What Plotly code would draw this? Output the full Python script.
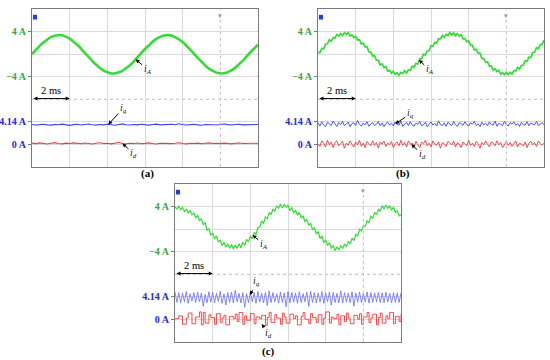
import plotly.graph_objects as go

# ---------------- data (time axis in ms, currents in A) ----------------
T_END = 12.0
PANELS = ["a", "b", "c"]

# phase current iA
iA_a_dt = 0.25
iA_a = [0.02, 0.90, 1.80, 2.46, 3.05, 3.30, 3.42, 3.18, 2.80, 2.11, 1.38, 0.43, -0.44, -1.38, -2.12, -2.81,
        -3.18, -3.42, -3.31, -3.05, -2.46, -1.80, -0.90, 0.03, 0.94, 1.75, 2.51, 3.00, 3.35, 3.40, 3.22, 2.76,
        2.16, 1.34, 0.48, -0.48, -1.33, -2.16, -2.76, -3.22, -3.40, -3.35, -3.00, -2.51, -1.75, -0.94, 0.02,
        0.90, 1.68]

iA_b_dt = 0.1
iA_b = [0.35, 0.29, 1.03, 0.95, 1.82, 1.86, 2.58, 2.32, 2.94, 2.87,
        3.52, 3.23, 3.69, 3.32, 3.85, 3.54, 3.88, 3.24, 3.45, 2.97,
        3.21, 2.51, 2.58, 1.82, 1.99, 1.33, 1.37, 0.43, 0.40, -0.30,
        -0.23, -1.07, -1.08, -1.89, -1.72, -2.33, -2.21, -3.01, -2.87, -3.35,
        -3.04, -3.58, -3.29, -3.75, -3.22, -3.44, -2.93, -3.32, -2.77, -2.84,
        -2.12, -2.28, -1.61, -1.72, -0.85, -0.78, 0.01, -0.15, 0.59, 0.68,
        1.50, 1.42, 2.11, 1.98, 2.77, 2.74, 3.37, 3.02, 3.53, 3.34,
        3.87, 3.45, 3.79, 3.28, 3.69, 3.25, 3.47, 2.71, 2.81, 2.23,
        2.37, 1.59, 1.58, 0.77, 0.88, 0.20, 0.20, -0.73, -0.77, -1.43,
        -1.34, -2.12, -2.08, -2.81, -2.56, -3.07, -2.85, -3.54, -3.28, -3.64,
        -3.20, -3.62, -3.19, -3.53, -2.87, -2.97, -2.34, -2.62, -1.98, -1.96,
        -1.17, -1.25, -0.53, -0.59, 0.30, 0.39, 1.18, 1.00, 1.72, 1.76,
        2.53]

iA_c_dt = 0.1
iA_c = [4.0, 3.6, 4.1, 3.5, 3.9, 3.1, 3.6, 2.9, 3.3, 2.6,
        2.9, 2.0, 2.5, 1.5, 1.9, 0.8, 1.2, -0.2, 0.1, -1.0,
        -0.7, -1.6, -1.2, -2.3, -1.9, -2.9, -2.3, -3.2, -2.6, -3.4,
        -2.7, -3.5, -2.8, -3.4, -2.6, -3.3, -2.3, -2.9, -1.8, -2.2,
        -1.2, -1.7, -0.6, -0.9, 0.3, 0.4, 1.5, 1.0, 2.2, 1.9,
        3.0, 2.6, 3.6, 3.2, 4.2, 3.7, 4.5, 3.8, 4.4, 3.9,
        4.3, 3.3, 3.9, 2.9, 3.4, 2.5, 3.0, 2.0, 2.4, 1.3,
        1.8, 0.7, 1.1, -0.1, 0.3, -0.8, -0.4, -1.6, -1.2, -2.4,
        -1.9, -2.9, -2.4, -3.4, -2.9, -3.8, -3.1, -3.7, -2.9, -3.4,
        -2.7, -3.1, -2.2, -2.6, -1.6, -2.0, -0.9, -1.2, 0.0, -0.3,
        0.7, 0.5, 1.5, 1.2, 2.3, 2.0, 3.0, 2.6, 3.6, 3.2,
        4.2, 3.6, 4.3, 3.7, 4.2, 3.4, 3.9, 3.0, 3.3, 2.4,
        2.6]

# q-axis current iq
iq_a_dt = 0.2
iq_a = [3.90, 3.85, 3.88, 3.92, 3.86, 3.84, 3.90, 3.87, 3.93, 3.86,
        3.82, 3.88, 3.91, 3.85, 3.89, 3.94, 3.87, 3.84, 3.90, 3.86,
        3.92, 3.88, 3.83, 3.89, 3.95, 3.87, 3.85, 3.90, 3.86, 3.91,
        3.88, 3.84, 3.90, 3.93, 3.86, 3.88, 3.85, 3.91, 3.87, 3.96,
        3.89, 3.85, 3.88, 3.92, 3.86, 3.83, 3.89, 3.91, 3.87, 3.85,
        3.90, 3.94, 3.88, 3.85, 3.89, 3.92, 3.86, 3.88, 3.91, 3.87,
        3.90]

iq_b_dt = 0.1
iq_b = [4.05, 3.75, 4.15, 3.85, 3.70, 4.10, 3.95, 3.80, 4.20, 3.90,
        3.72, 4.08, 3.88, 4.18, 3.78, 3.95, 4.12, 3.70, 3.98, 4.05,
        3.82, 4.25, 3.90, 3.75, 4.02, 3.86, 4.14, 3.74, 3.96, 4.08,
        3.80, 3.92, 4.16, 3.78, 4.04, 3.70, 3.98, 4.10, 3.84, 4.00,
        3.76, 4.12, 3.90, 3.82, 4.20, 3.72, 3.94, 4.06, 3.80, 4.14,
        3.86, 3.74, 4.02, 3.92, 4.18, 3.78, 3.88, 4.08, 3.70, 3.96,
        4.12, 3.84, 4.00, 3.76, 4.22, 3.90, 3.80, 4.04, 3.74, 4.10,
        3.94, 3.78, 4.16, 3.86, 3.72, 4.06, 3.98, 3.82, 4.14, 3.88,
        3.76, 4.04, 3.92, 4.18, 3.80, 3.96, 3.70, 4.10, 3.86, 4.02,
        3.78, 4.12, 3.90, 3.84, 4.20, 3.74, 4.00, 3.92, 3.80, 4.16,
        3.88, 3.76, 4.06, 3.94, 4.12, 3.82, 3.98, 3.72, 4.08, 3.90,
        3.84, 4.14, 3.78, 4.02, 3.96, 3.86, 4.18, 3.80, 3.92, 4.06,
        3.90]

iq_c_dt = 0.1
iq_c = [4.55, 3.65, 4.50, 3.60, 4.45, 3.70, 4.60, 3.55, 4.40, 3.75,
        4.50, 3.62, 4.55, 3.68, 4.48, 3.30, 4.35, 3.60, 4.58, 3.66,
        4.52, 3.58, 4.45, 3.72, 4.62, 3.55, 4.40, 3.40, 4.50, 3.65,
        4.56, 3.60, 4.70, 3.68, 4.44, 3.58, 4.50, 3.20, 4.40, 3.62,
        4.55, 3.70, 4.48, 3.56, 4.60, 3.66, 4.45, 3.60, 4.52, 3.35,
        4.66, 3.62, 4.50, 3.70, 4.40, 3.58, 4.56, 3.64, 4.48, 3.25,
        4.60, 3.60, 4.52, 3.68, 4.45, 3.56, 4.58, 3.62, 4.42, 3.70,
        4.55, 3.30, 4.62, 3.64, 4.50, 3.58, 4.46, 3.66, 4.60, 3.55,
        4.48, 3.70, 4.56, 3.40, 4.52, 3.62, 4.44, 3.60, 4.66, 3.58,
        4.50, 3.66, 4.45, 3.62, 4.58, 3.30, 4.48, 3.64, 4.54, 3.60,
        4.42, 3.68, 4.56, 3.58, 4.50, 3.64, 4.46, 3.70, 4.52, 3.62,
        4.48, 3.60, 4.55, 3.66, 4.44, 3.58, 4.50, 3.64, 4.46, 3.62,
        4.50]

# d-axis current id
id_a_dt = 0.2
id_a = [0.10, 0.05, 0.12, 0.06, 0.02, 0.09, 0.14, 0.07, 0.03, 0.10,
        0.06, 0.12, 0.08, 0.04, 0.11, 0.07, 0.02, 0.09, 0.13, 0.06,
        0.08, 0.03, 0.10, 0.15, 0.07, 0.04, 0.09, 0.06, 0.11, 0.05,
        0.08, 0.12, 0.06, 0.02, 0.09, 0.07, 0.11, 0.05, 0.08, 0.13,
        0.07, 0.03, 0.09, 0.06, 0.10, 0.04, 0.08, 0.12, 0.06, 0.09,
        0.05, 0.10, 0.07, 0.03, 0.09, 0.11, 0.06, 0.08, 0.04, 0.09,
        0.07]

id_b_dt = 0.1
id_b = [0.05, -0.20, 0.30, 0.10, -0.25, 0.35, -0.05, 0.20, -0.30, 0.15,
        0.30, -0.15, 0.05, 0.25, -0.35, 0.10, -0.10, 0.30, 0.00, -0.25,
        0.20, -0.05, 0.35, -0.20, 0.10, -0.30, 0.25, 0.05, -0.15, 0.30,
        -0.10, 0.15, -0.35, 0.20, 0.00, 0.30, -0.20, 0.10, -0.05, 0.25,
        -0.30, 0.05, 0.20, -0.15, 0.35, -0.10, 0.15, -0.25, 0.30, 0.00,
        0.10, -0.20, 0.25, -0.05, -0.30, 0.20, 0.05, 0.35, -0.15, 0.10,
        -0.25, 0.30, 0.00, -0.10, 0.20, -0.35, 0.15, 0.05, -0.20, 0.25,
        0.10, -0.05, 0.30, -0.25, 0.15, 0.00, -0.30, 0.20, 0.05, -0.15,
        0.35, -0.10, 0.10, -0.20, 0.25, 0.05, -0.35, 0.15, -0.05, 0.30,
        0.00, -0.25, 0.20, 0.10, -0.15, 0.30, -0.05, 0.15, -0.30, 0.05,
        0.25, -0.10, 0.15, -0.20, 0.05, 0.30, -0.25, 0.10, 0.00, -0.15,
        0.20, -0.30, 0.10, 0.25, -0.05, 0.15, -0.20, 0.30, 0.05, -0.10,
        0.10]

id_c_dt = 0.1
id_c = [0.05, 0.05, 0.30, 0.30, -0.45, -0.45, 0.10, 0.55, 0.55, -0.40,
        -0.40, 0.20, 0.20, 0.65, -0.50, 0.60, -0.35, -0.35, 0.40, 0.15,
        0.15, -0.45, 0.50, 0.50, -0.30, 0.10, 0.35, -0.50, -0.50, 0.25,
        0.25, 0.05, 0.45, -0.20, 0.60, 0.60, -0.45, 0.30, -0.10, -0.10,
        0.50, 0.50, -0.40, 0.20, 0.20, 0.05, 0.35, 0.35, -0.55, 0.15,
        0.60, -0.30, -0.30, 0.40, 0.10, 0.10, -0.45, 0.55, 0.20, -0.35,
        -0.35, 0.45, 0.45, 0.05, 0.30, -0.50, -0.50, 0.25, 0.60, 0.00,
        0.00, -0.40, 0.50, 0.15, 0.15, -0.30, 0.40, 0.40, -0.45, 0.10,
        0.65, 0.65, -0.35, 0.20, 0.05, 0.05, 0.45, -0.50, 0.30, 0.30,
        -0.20, 0.55, 0.10, -0.40, -0.40, 0.35, 0.35, 0.00, 0.50, -0.45,
        0.20, 0.20, 0.60, -0.30, 0.10, 0.45, 0.45, -0.50, 0.15, 0.55,
        -0.35, -0.35, 0.30, 0.05, 0.60, 0.60, -0.40, 0.25, 0.25, -0.20,
        0.45]

# channel reference levels and tick labels
iA_ticks = [-4, 4]
iA_ticktext = ["\u22124 A", "4 A"]
iq_ref = 4.14
iq_ticktext = ["4.14 A"]
id_ref = 0
id_ticktext = ["0 A"]
time_div = 2  # ms per division
panel_labels = ["(a)", "(b)", "(c)"]
scale_text = "2 ms"

# ---------------- styling ----------------
GREEN = "#36dc36"
GREEN_TXT = "#3aa63a"
BLUE = "#4040f0"
BLUE_C = "#6a6af5"
BLUE_TXT = "#2626dd"
RED = "#f03a3a"
GRID = "#dadada"
FRAME = "#7a7a7a"
MARK = "#cfb0d6"
SERIF = "Liberation Serif"

dom = {
    "a": ([0.0582, 0.4691], [0.5369, 0.9742]),
    "b": ([0.5782, 0.9891], [0.5369, 0.9742]),
    "c": ([0.3182, 0.7291], [0.0508, 0.4881]),
}

fig = go.Figure()
layout = dict(width=550, height=360, margin=dict(l=0, r=0, t=0, b=0),
              paper_bgcolor="white", plot_bgcolor="white", showlegend=False,
              template="none", hovermode=False)

series = {
    "a": [(iA_a, iA_a_dt, GREEN, 2.6, "spline"), (iq_a, iq_a_dt, BLUE, 1.1, "linear"), (id_a, id_a_dt, RED, 1.1, "linear")],
    "b": [(iA_b, iA_b_dt, GREEN, 1.7, "linear"), (iq_b, iq_b_dt, BLUE, 0.9, "linear"), (id_b, id_b_dt, RED, 0.9, "linear")],
    "c": [(iA_c, iA_c_dt, GREEN, 1.2, "linear"), (iq_c, iq_c_dt, BLUE_C, 0.8, "linear"), (id_c, id_c_dt, RED, 0.9, "hv")],
}

# arrow label placement: (channel, t, value, ax, ay, text)
labels = {
    "a": [(0, 5.5, -0.9, 12, 10, "<i>i<sub>A</sub></i>"), (1, 4.05, 3.9, 15, -16, "<i>i<sub>q</sub></i>"), (2, 4.8, 0.07, 11, 10, "<i>i<sub>d</sub></i>")],
    "b": [(0, 5.35, -1.0, 11, 10, "<i>i<sub>A</sub></i>"), (1, 4.1, 3.95, 15, -10, "<i>i<sub>q</sub></i>"), (2, 4.95, 0.0, 11, 10, "<i>i<sub>d</sub></i>")],
    "c": [(0, 4.12, -1.0, 11, 10, "<i>i<sub>A</sub></i>"), (1, 3.98, 4.3, 7, -13, "<i>i<sub>q</sub></i>"), (2, 4.6, -0.43, 7, 9, "<i>i<sub>d</sub></i>")],
}
label_pos = {"a": (147, 173), "b": (403, 173), "c": (268, 351)}

annotations = []
shapes = []
for pi, p in enumerate(PANELS):
    xn = "" if pi == 0 else str(pi + 1)
    xid = "x" + xn
    base = 4 * pi + 1
    ids = [base, base + 1, base + 2, base + 3]
    yname = ["y" if i == 1 else "y%d" % i for i in ids]
    ykey = ["yaxis" if i == 1 else "yaxis%d" % i for i in ids]
    xdom, ydom = dom[p]

    layout["xaxis" + xn] = dict(domain=xdom, range=[0, T_END], anchor=yname[0], tickmode="array",
                                tickvals=[2, 4, 6, 8], showgrid=True, gridcolor=GRID, gridwidth=1,
                                showticklabels=False, ticks="", zeroline=False, showline=True,
                                mirror=True, linecolor=FRAME, linewidth=1)
    layout[ykey[0]] = dict(domain=ydom, range=[0, 7], anchor=xid, tickmode="array",
                           tickvals=[1, 2, 4, 5, 6], showgrid=True, gridcolor=GRID, gridwidth=1,
                           showticklabels=False, ticks="", zeroline=False, showline=True,
                           mirror=True, linecolor=FRAME, linewidth=1)
    chan_axes = [
        ([-20, 8], iA_ticks, iA_ticktext, GREEN_TXT),
        ([iq_ref - 4, iq_ref + 10], [iq_ref], iq_ticktext, BLUE_TXT),
        ([-2, 12], [id_ref], id_ticktext, BLUE_TXT),
    ]
    for k, (rng, tv, tt, col) in enumerate(chan_axes):
        layout[ykey[k + 1]] = dict(overlaying=yname[0], anchor=xid, side="left", range=rng,
                                   tickmode="array", tickvals=tv, ticktext=tt, showgrid=False,
                                   zeroline=False, showline=False, ticks="outside", ticklen=3,
                                   tickcolor=FRAME, tickwidth=1,
                                   tickfont=dict(family=SERIF, size=10, color=col, weight="bold"))
    for k, (vals, dt, col, w, shape) in enumerate(series[p]):
        fig.add_trace(go.Scatter(y=vals, x0=0, dx=dt, mode="lines", xaxis=xid, yaxis=yname[k + 1],
                                 line=dict(color=col, width=w, shape=shape)))
    # centre marker lines
    shapes.append(dict(type="line", xref=xid, yref=yname[0], x0=0, x1=T_END, y0=3, y1=3,
                       line=dict(color=MARK, width=1, dash="dot")))
    shapes.append(dict(type="line", xref=xid, yref=yname[0], x0=10, x1=10, y0=0, y1=7,
                       line=dict(color=MARK, width=1, dash="dot")))
    shapes.append(dict(type="rect", xref=xid + " domain", yref=yname[0] + " domain",
                       x0=0.004, x1=0.022, y0=0.935, y1=0.965, fillcolor="#1f3fe0",
                       line=dict(width=0)))
    annotations.append(dict(x=10, y=7, xref=xid, yref=yname[0], text="\u25be", showarrow=False,
                            yanchor="top", font=dict(size=7, color="#a58ad0")))
    # 2 ms scale arrow
    annotations.append(dict(x=time_div, y=3.03, ax=0, ay=3.03, xref=xid, yref=yname[0], axref=xid,
                            ayref=yname[0], text="", showarrow=True, arrowhead=2, startarrowhead=2,
                            arrowside="end+start", arrowsize=0.8, startarrowsize=0.8, arrowwidth=1,
                            arrowcolor="black"))
    annotations.append(dict(x=time_div / 2, y=3.38, xref=xid, yref=yname[0], text=scale_text,
                            showarrow=False, xanchor="center", yanchor="middle",
                            font=dict(family=SERIF, size=10.5, color="black")))
    for (ch, t, v, ax, ay, txt) in labels[p]:
        annotations.append(dict(x=t, y=v, xref=xid, yref=yname[ch + 1], text=txt, ax=ax, ay=ay,
                                showarrow=True, arrowhead=2, arrowsize=0.8, arrowwidth=1,
                                arrowcolor="black", font=dict(family=SERIF, size=10, color="#222")))
    lx, ly = label_pos[p]
    annotations.append(dict(x=lx / 550, y=1 - ly / 360, xref="paper", yref="paper",
                            text=panel_labels[pi], showarrow=False, xanchor="center",
                            yanchor="middle",
                            font=dict(family=SERIF, size=11, color="black", weight="bold")))

layout["annotations"] = annotations
layout["shapes"] = shapes
fig.update_layout(**layout)
fig.write_html("out.html", config={"displayModeBar": False, "staticPlot": True},
               post_script="document.body.style.margin='0px';")
